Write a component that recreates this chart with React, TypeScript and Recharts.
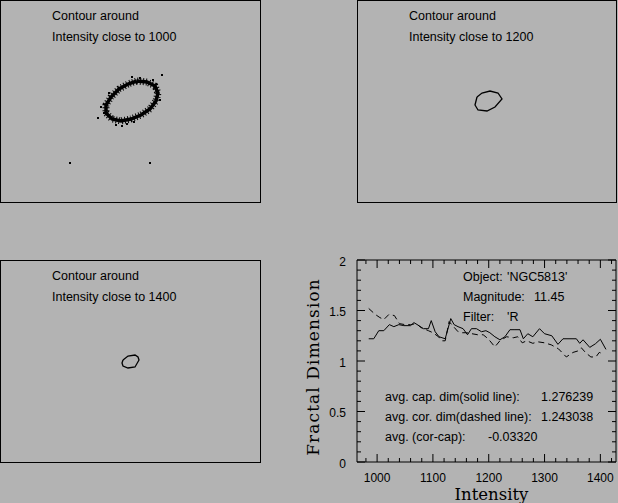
import React from 'react';
import { ComposedChart, LineChart, Line, Scatter, XAxis, YAxis } from 'recharts';

// frame pixel coordinates of the traced contours (x right, y down)
const contour1000X = [137, 147, 155, 158, 156, 150, 141, 131, 121, 112, 106, 106, 111, 119, 128, 137];
const contour1000Y = [81, 82, 86, 93, 101, 109, 115, 119, 121, 119, 113, 105, 97, 89, 84, 81];
const speckleX = [162, 132, 101, 98, 122, 127, 160, 104, 70, 150, 140, 116, 153, 109, 134];
const speckleY = [75, 77, 107, 118, 126, 124, 100, 113, 163, 163, 78, 125, 80, 93, 122];

const contour1200X = [120, 125, 133, 141, 145, 138, 130, 121, 118, 120];
const contour1200Y = [97, 93, 91, 93, 99, 107, 111, 110, 105, 97];

const contour1400X = [123, 128, 135, 138, 139, 135, 128, 123, 122, 123];
const contour1400Y = [100, 96, 95, 97, 100, 107, 108, 106, 103, 100];

// fractal dimension vs intensity
const capIntensity = [985, 994, 1003, 1012, 1022, 1030, 1039, 1048, 1060, 1066, 1072, 1083, 1092, 1097, 1104, 1111, 1122, 1132, 1138, 1145, 1154, 1162, 1169, 1178, 1187, 1195, 1202, 1211, 1220, 1229, 1238, 1247, 1256, 1262, 1270, 1279, 1291, 1300, 1313, 1324, 1333, 1357, 1363, 1369, 1381, 1391, 1400, 1410];
const capDim = [1.22, 1.22, 1.3, 1.3, 1.36, 1.34, 1.36, 1.35, 1.35, 1.38, 1.36, 1.32, 1.32, 1.4, 1.29, 1.24, 1.22, 1.42, 1.36, 1.34, 1.32, 1.26, 1.32, 1.32, 1.29, 1.3, 1.28, 1.24, 1.21, 1.24, 1.31, 1.31, 1.31, 1.22, 1.27, 1.24, 1.32, 1.27, 1.25, 1.165, 1.22, 1.22, 1.175, 1.21, 1.135, 1.17, 1.215, 1.115];

const corIntensity = [985, 997, 1005, 1012, 1021, 1031, 1040, 1050, 1060, 1070, 1079, 1092, 1100, 1110, 1116, 1122, 1129, 1137, 1145, 1153, 1160, 1170, 1180, 1190, 1199, 1211, 1220, 1232, 1244, 1252, 1260, 1268, 1279, 1288, 1300, 1312, 1325, 1339, 1351, 1360, 1366, 1374, 1383, 1392, 1398, 1405];
const corDim = [1.52, 1.46, 1.43, 1.41, 1.46, 1.45, 1.37, 1.36, 1.36, 1.37, 1.33, 1.3, 1.28, 1.24, 1.2, 1.2, 1.39, 1.34, 1.29, 1.28, 1.28, 1.27, 1.26, 1.26, 1.22, 1.14, 1.2, 1.24, 1.23, 1.24, 1.18, 1.2, 1.175, 1.19, 1.18, 1.16, 1.12, 1.04, 1.085, 1.1, 1.13, 1.08, 1.04, 1.04, 1.085, 1.07];

// minor ticks every 20 / 0.1, labelled ones every 100 / 0.5
const xTicks = [980, 1000, 1020, 1040, 1060, 1080, 1100, 1120, 1140, 1160, 1180, 1200, 1220, 1240, 1260, 1280, 1300, 1320, 1340, 1360, 1380, 1400, 1420];
const xLabelled = [1000, 1100, 1200, 1300, 1400];
const yTicks = [0, 0.1, 0.2, 0.3, 0.4, 0.5, 0.6, 0.7, 0.8, 0.9, 1, 1.1, 1.2, 1.3, 1.4, 1.5, 1.6, 1.7, 1.8, 1.9, 2];
const yLabelled = [0, 0.5, 1, 1.5, 2];

const BG = '#b3b3b3';
const SANS = '"Liberation Sans", Arial, sans-serif';
const SERIF = '"DejaVu Serif", serif';
const ink = { stroke: '#000000', strokeWidth: 1 };

const zip = (xs: number[], ys: number[], k = 'y') => xs.map((x, i) => ({ x, [k]: ys[i] }));

function Txt({ x, y, children }: { x: number; y: number; children: React.ReactNode }) {
  return (
    <div style={{ position: 'absolute', left: x, top: y - 7, lineHeight: '14px', fontSize: 12.5, fontFamily: SANS, color: '#000', whiteSpace: 'pre' }}>
      {children}
    </div>
  );
}

const Speck = (p: any) => <rect x={p.cx - 1} y={p.cy - 1} width={2} height={2} fill="#000" />;

function ContourPanel({ left, top, width, level, xs, ys, thick, specks }: any) {
  const data = zip(xs, ys);
  return (
    <div style={{ position: 'absolute', left, top, width, height: 203 }}>
      <div style={{ position: 'absolute', inset: 0, border: '1px solid #000', boxSizing: 'border-box' }} />
      <div style={{ position: 'absolute', left: 0, top: 0 }}>
        <ComposedChart width={width} height={203} margin={{ top: 0, right: 0, bottom: 0, left: 0 }}>
          <XAxis type="number" dataKey="x" domain={[0, width]} hide allowDataOverflow />
          <YAxis type="number" domain={[0, 203]} reversed hide allowDataOverflow />
          <Line data={data} dataKey="y" stroke="#000" strokeWidth={thick ? 3.5 : 1.3} dot={false} isAnimationActive={false} />
          {thick && <Line data={data} dataKey="y" stroke="#000" strokeWidth={7} strokeDasharray="1 2" dot={false} isAnimationActive={false} />}
          {specks && <Scatter data={specks} dataKey="y" shape={Speck} isAnimationActive={false} />}
        </ComposedChart>
      </div>
      <Txt x={52} y={16}>Contour around</Txt>
      <Txt x={52} y={37}>{`Intensity close to ${level}`}</Txt>
    </div>
  );
}

// one axis per side; tick marks drawn inward, long for labelled values
const makeTick = (side: 'bottom' | 'top' | 'left' | 'right') => (p: any) => {
  const v = p.payload.value;
  const major = side === 'bottom' || side === 'top' ? xLabelled.includes(v) : yLabelled.includes(v);
  const len = major ? 8 : 4;
  const { x, y } = p;
  let x2 = x;
  let y2 = y;
  if (side === 'bottom') y2 = y - len;
  else if (side === 'top') y2 = y + len;
  else if (side === 'left') x2 = x + len;
  else x2 = x - len;
  let label = null;
  if (major && side === 'bottom')
    label = <text x={x} y={y + 19.5} textAnchor="middle" fontSize={12} fontFamily={SANS} fill="#000">{v}</text>;
  if (major && side === 'left')
    label = <text x={x - 11} y={y + 5.5} textAnchor="end" fontSize={12} fontFamily={SANS} fill="#000">{v}</text>;
  return (
    <g>
      <path d={`M${x},${y}L${x2},${y2}`} stroke="#000000" strokeWidth={1} fill="none" />
      {label}
    </g>
  );
};

const xTitle = (p: any) => {
  const { x, y, width } = p.viewBox;
  return <text x={x + width / 2 + 5} y={y + 38} textAnchor="middle" fontFamily={SERIF} fontSize={16.5} fill="#000">Intensity</text>;
};
const yTitle = (p: any) => {
  const { x, y, width, height } = p.viewBox;
  const cx = x + width - 44;
  const cy = y + height / 2 + 6;
  return (
    <text x={cx} y={cy} transform={`rotate(-90 ${cx} ${cy})`} textAnchor="middle" dominantBaseline="central" fontFamily={SERIF} fontSize={17} letterSpacing={1.1} fill="#000">
      Fractal Dimension
    </text>
  );
};

export default function App() {
  const xDom: [number, number] = [964, 1428];
  const yDom: [number, number] = [0, 2];
  return (
    <div style={{ position: 'absolute', left: 0, top: 0, width: 618, height: 503, background: BG, overflow: 'hidden' }}>
      <ContourPanel left={0} top={0} width={261} level={1000} xs={contour1000X} ys={contour1000Y} thick specks={zip(speckleX, speckleY)} />
      <ContourPanel left={357} top={0} width={260} level={1200} xs={contour1200X} ys={contour1200Y} />
      <ContourPanel left={0} top={260} width={261} level={1400} xs={contour1400X} ys={contour1400Y} />

      <div style={{ position: 'absolute', left: 300, top: 250 }}>
        <LineChart width={318} height={253} margin={{ top: 9, right: 1, bottom: 11, left: 37 }}>
          <XAxis xAxisId="b" type="number" dataKey="x" domain={xDom} ticks={xTicks} interval={0} height={30} tickSize={0} tickMargin={0} allowDataOverflow axisLine={ink} stroke="#000000" tickLine={false} tick={makeTick('bottom')} label={{ content: xTitle }} />
          <XAxis xAxisId="t" orientation="top" type="number" dataKey="x" domain={xDom} ticks={xTicks} interval={0} height={1} tickSize={0} tickMargin={0} allowDataOverflow axisLine={ink} stroke="#000000" tickLine={false} tick={makeTick('top')} />
          <YAxis yAxisId="l" type="number" domain={yDom} ticks={yTicks} interval={0} width={20} tickSize={0} tickMargin={0} allowDataOverflow axisLine={ink} stroke="#000000" tickLine={false} tick={makeTick('left')} label={{ content: yTitle }} />
          <YAxis yAxisId="r" orientation="right" type="number" domain={yDom} ticks={yTicks} interval={0} width={1} tickSize={0} tickMargin={0} allowDataOverflow axisLine={ink} stroke="#000000" tickLine={false} tick={makeTick('right')} />
          <Line xAxisId="b" yAxisId="l" data={zip(capIntensity, capDim, 'v')} dataKey="v" stroke="#000" strokeWidth={1} dot={false} isAnimationActive={false} />
          <Line xAxisId="b" yAxisId="l" data={zip(corIntensity, corDim, 'v')} dataKey="v" stroke="#000" strokeWidth={1} strokeDasharray="6 4" dot={false} isAnimationActive={false} />
        </LineChart>
      </div>

      <Txt x={463} y={277}>Object:</Txt>
      <Txt x={507} y={277}>'NGC5813'</Txt>
      <Txt x={463} y={297}>Magnitude:</Txt>
      <Txt x={534} y={297}>11.45</Txt>
      <Txt x={463} y={317}>Filter:</Txt>
      <Txt x={507} y={317}>'R</Txt>
      <Txt x={385} y={397}>avg. cap. dim(solid line):</Txt>
      <Txt x={541} y={397}>1.276239</Txt>
      <Txt x={385} y={417}>avg. cor. dim(dashed line):</Txt>
      <Txt x={541} y={417}>1.243038</Txt>
      <Txt x={385} y={437}>avg. (cor-cap):</Txt>
      <Txt x={488} y={437}>-0.03320</Txt>
    </div>
  );
}
